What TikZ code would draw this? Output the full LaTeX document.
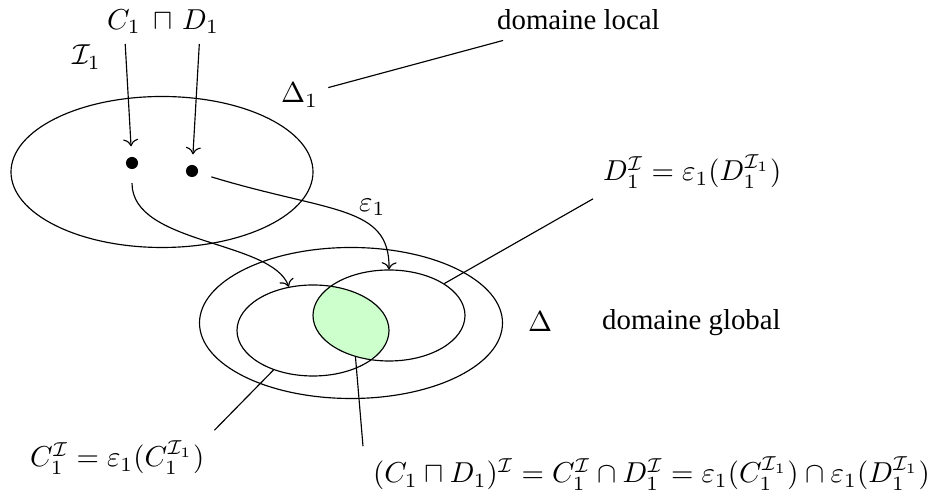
\documentclass[tikz,border=0pt]{standalone}
\usepackage[no-math]{fontspec}
\setmainfont{Liberation Serif}
\usepackage{amsmath,amssymb}
\usepackage{tikz}
\usetikzlibrary{arrows.meta,positioning,shapes.geometric}

\newcommand{\pxu}{0.347pt}
\tikzset{
  region/.style={draw, ellipse, inner sep=0pt},
  dot/.style={circle, fill, inner sep=0pt, minimum size=4.2pt},
  txt/.style={anchor=base west},
  map/.style={->, shorten <=4.7pt},
}

\begin{document}
\begin{tikzpicture}[x=\pxu, y=-\pxu]
\useasboundingbox (0,0) rectangle (933,497);
\node[txt] (topC) at (97,29.5) {$C_1$};
\node[txt] (topS) at (143,29.5) {$\sqcap$};
\node[txt] (topD) at (172,29.5) {$D_1$};
\node[txt] (I1) at (62,65) {$\mathcal{I}_1$};
\node[txt] (Dloc) at (271,103) {$\Delta_1$};
\node[txt] (domloc) at (487,30) {domaine local};
\node[region, minimum width=302*\pxu, minimum height=151*\pxu] (loc) at (162,172) {};
\node[dot] (p1) at (132,163) {};
\node[dot] (p2) at (192,171) {};
\coordinate (cC) at (313,330.5);
\coordinate (cD) at (389,315.5);
\begin{scope}
\clip (cC) ellipse [x radius=76, y radius=45.5];
\fill[green!20] (cD) ellipse [x radius=76, y radius=45.5];
\end{scope}
\node[region, minimum width=152*\pxu, minimum height=91*\pxu] (C) at (cC) {};
\node[region, minimum width=152*\pxu, minimum height=91*\pxu] (D) at (cD) {};
\node[region, minimum width=303*\pxu, minimum height=151*\pxu] (glob) at (351,323) {};
\node[txt] (eps) at (349,211.5) {$\varepsilon_1$};
\node[txt] (Dlab) at (593,181) {$D_1^{\mathcal{I}} = \varepsilon_1(D_1^{\mathcal{I}_1})$};
\node[txt] (Delta) at (518,332) {$\Delta$};
\node[txt] (domglob) at (592,330) {domaine global};
\node[txt] (Clab) at (20,467) {$C_1^{\mathcal{I}} = \varepsilon_1(C_1^{\mathcal{I}_1})$};
\node[txt] (CDlab) at (363,483) {$(C_1 \sqcap D_1)^{\mathcal{I}} = C_1^{\mathcal{I}} \cap D_1^{\mathcal{I}} = \varepsilon_1(C_1^{\mathcal{I}_1}) \cap \varepsilon_1(D_1^{\mathcal{I}_1})$};
\draw[->, shorten >=3.5pt] (topC) -- (p1);
\draw[->, shorten >=3.5pt] (topD) -- (p2);
\draw[map] (p1) .. controls (132,245) and (272,240) .. (C.119);
\draw[map] (p2) .. controls (330,213) and (390,205) .. (D.north);
\draw (Dloc) -- (domloc);
\draw (D.30) -- (Dlab.south west);
\draw (C.225) -- (Clab.north east);
\draw (D.231) -- (CDlab.north west);
\end{tikzpicture}
\end{document}
